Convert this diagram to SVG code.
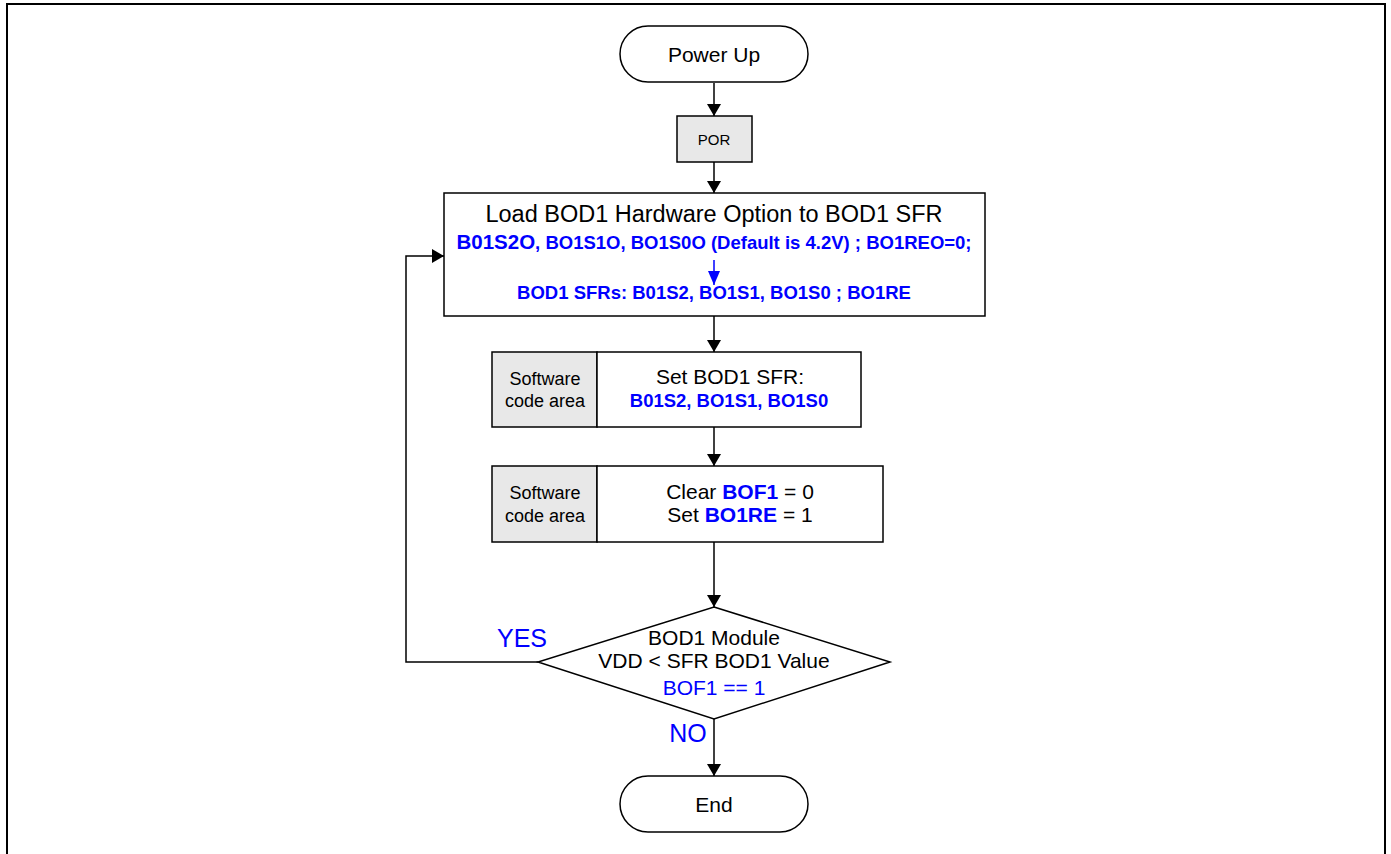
<svg xmlns="http://www.w3.org/2000/svg" width="1391" height="854" viewBox="0 0 1391 854">
  <defs>
    <marker id="arrow" markerWidth="12" markerHeight="14" refX="12" refY="7" orient="auto" markerUnits="userSpaceOnUse">
      <path d="M0,0 L12,7 L0,14 Z" fill="#000"/>
    </marker>
    <marker id="arrowBlue" markerWidth="14" markerHeight="12" refX="14" refY="6" orient="auto" markerUnits="userSpaceOnUse">
      <path d="M0,0 L14,6 L0,12 Z" fill="#0000ff"/>
    </marker>
  </defs>
  <style>
    text { font-family: "Liberation Sans", Arial, sans-serif; fill: #000; text-anchor: middle; }
    .shape { fill: #fff; stroke: #000; stroke-width: 1.5; }
    .grey { fill: #e8e8e8; stroke: #000; stroke-width: 1.5; }
    .conn { fill: none; stroke: #000; stroke-width: 1.5; }
    .blue { fill: #0000ff; }
    .b { font-weight: bold; }
  </style>

  <rect width="1391" height="854" fill="#fff"/>
  <!-- outer frame -->
  <path d="M7,856 L7,4 L1385,4 L1385,856" fill="none" stroke="#000" stroke-width="2"/>

  <g id="connectors">
    <line class="conn" x1="714" y1="83" x2="714" y2="116" marker-end="url(#arrow)"/>
    <line class="conn" x1="714" y1="162" x2="714" y2="193" marker-end="url(#arrow)"/>
    <line class="conn" x1="714" y1="316" x2="714" y2="352" marker-end="url(#arrow)"/>
    <line class="conn" x1="714" y1="427" x2="714" y2="466" marker-end="url(#arrow)"/>
    <line class="conn" x1="714" y1="542" x2="714" y2="607" marker-end="url(#arrow)"/>
    <line class="conn" x1="714" y1="719" x2="714" y2="776" marker-end="url(#arrow)"/>
    <polyline class="conn" points="538,662 406,662 406,256 444,256" marker-end="url(#arrow)"/>
    <text x="522" y="647" font-size="25" class="blue">YES</text>
    <text x="688" y="742" font-size="25" class="blue">NO</text>
  </g>

  <g id="power-up">
    <rect class="shape" x="620" y="26" width="188" height="56" rx="28"/>
    <text x="714" y="62" font-size="21">Power Up</text>
  </g>

  <g id="por">
    <rect class="grey" x="677" y="116" width="75" height="46"/>
    <text x="714" y="145" font-size="15">POR</text>
  </g>

  <g id="load-bod1">
    <rect class="shape" x="444" y="193" width="541" height="123"/>
    <text x="714" y="222" font-size="23.5">Load BOD1 Hardware Option to BOD1 SFR</text>
    <text x="714" y="249" font-size="18.5" class="blue b"><tspan font-size="20.5">B01S2O</tspan>, BO1S1O, BO1S0O (Default is 4.2V) ; BO1REO=0;</text>
    <line x1="714" y1="260" x2="714" y2="285" stroke="#0000ff" stroke-width="1.5" marker-end="url(#arrowBlue)"/>
    <text x="714" y="299" font-size="18.5" class="blue b">BOD1 SFRs: B01S2, BO1S1, BO1S0 ; BO1RE</text>
  </g>

  <g id="set-bod1-sfr">
    <rect class="grey" x="492" y="352" width="105" height="75"/>
    <rect class="shape" x="597" y="352" width="264" height="75"/>
    <text x="545" y="385" font-size="18">Software</text>
    <text x="545" y="407" font-size="18">code area</text>
    <text x="730" y="384" font-size="21">Set BOD1 SFR:</text>
    <text x="729" y="407" font-size="18.5" class="blue b">B01S2, BO1S1, BO1S0</text>
  </g>

  <g id="clear-bof1">
    <rect class="grey" x="492" y="466" width="105" height="76"/>
    <rect class="shape" x="597" y="466" width="286" height="76"/>
    <text x="545" y="499" font-size="18">Software</text>
    <text x="545" y="522" font-size="18">code area</text>
    <text x="740" y="499" font-size="21">Clear <tspan class="blue b">BOF1</tspan> = 0</text>
    <text x="740" y="522" font-size="21">Set <tspan class="blue b">BO1RE</tspan> = 1</text>
  </g>

  <g id="bod1-decision">
    <polygon class="shape" points="714,607 890,662 714,719 538,662"/>
    <text x="714" y="645" font-size="21">BOD1 Module</text>
    <text x="714" y="668" font-size="21">VDD &lt; SFR BOD1 Value</text>
    <text x="714" y="695" font-size="21" class="blue">BOF1 == 1</text>
  </g>

  <g id="end">
    <rect class="shape" x="620" y="776" width="188" height="56" rx="28"/>
    <text x="714" y="812" font-size="21">End</text>
  </g>
</svg>
